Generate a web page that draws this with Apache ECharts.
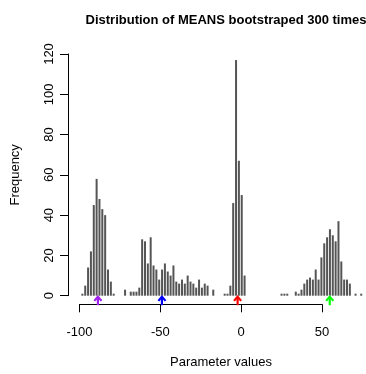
<!DOCTYPE html>
<html>
<head>
<meta charset="utf-8">
<script src="https://cdn.jsdelivr.net/npm/echarts@6/dist/echarts.min.js"></script>
<style>
  html, body { margin: 0; padding: 0; background: #fff; }
  #chart { width: 366px; height: 374px; }
</style>
</head>
<body>
<div id="chart"></div>
<script>
// Bootstrapped means for four parameters: bin centres and frequencies
const groupAValues = [-98.2, -96.44, -94.68, -92.92, -91.16, -89.4, -87.64, -85.88, -84.12, -82.36, -80.6, -78.84];
const groupAFreq   = [1, 5, 14, 22, 45, 58, 48, 43, 40, 13, 7, 1];

const groupBValues = [-71.8, -68.28, -66.52, -64.76, -63.0, -61.24, -59.48, -57.72, -55.96, -54.2,
                      -52.44, -50.68, -48.92, -47.16, -45.4, -43.64, -41.88, -40.12, -38.36, -36.6,
                      -34.84, -33.08, -31.32, -29.56, -27.8, -26.04, -24.28, -22.52, -20.76, -17.24];
const groupBFreq   = [3, 2, 2, 2, 4, 28, 27, 16, 29, 15,
                      13, 8, 13, 16, 12, 10, 15, 7, 6, 8,
                      6, 10, 7, 6, 4, 8, 4, 6, 5, 3];

const groupCValues = [-10.2, -8.44, -6.68, -4.92, -3.16, -1.4, 0.36, 2.12];
const groupCFreq   = [1, 1, 5, 46, 117, 67, 50, 10];

const groupDValues = [25.0, 26.76, 28.52, 33.8, 35.56, 37.32, 39.08, 40.84, 42.6, 44.36,
                      46.12, 47.88, 49.64, 51.4, 53.16, 54.92, 56.68, 58.44, 60.2, 61.96,
                      63.72, 65.48, 67.24, 70.76, 74.28];
const groupDFreq   = [1, 1, 1, 2, 1, 3, 6, 8, 9, 8,
                      13, 8, 19, 26, 29, 33, 30, 27, 37, 17,
                      8, 8, 6, 1, 1];

// True parameter values marked with arrows under the histogram
const arrowValues = [-88.6, -49.0, -2.2, 54.8];
const arrowColors = ['#a020f0', '#0000ff', '#ff0000', '#00ff00'];

// Axis ticks
const xTickStep = 50;   // -100, -50, 0, 50
const yTickStep = 20;   // 0 .. 120

const FONT = '"Liberation Sans", Arial, Helvetica, sans-serif';
const INK = '#000';

const barData = [];
[[groupAValues, groupAFreq], [groupBValues, groupBFreq],
 [groupCValues, groupCFreq], [groupDValues, groupDFreq]].forEach(([xs, fs]) => {
  xs.forEach((x, i) => barData.push([x, fs[i]]));
});

const chart = echarts.init(document.getElementById('chart'), null, { renderer: 'canvas' });

chart.setOption({
  animation: false,
  backgroundColor: '#fff',
  title: {
    text: 'Distribution of MEANS bootstraped 300 times',
    left: 221,
    top: 9,
    textAlign: 'center',
    textStyle: { fontFamily: FONT, fontSize: 13, fontWeight: 'bold', color: INK }
  },
  grid: [
    // plotting region (y from 0 to 120)
    { left: 68, top: 54, right: 0, bottom: 78.3 },
    // strip that carries the x axis line from -100 to 50
    { left: 79.5, width: 242.5, top: 300, height: 4.3 }
  ],
  xAxis: [
    {
      gridIndex: 0, type: 'value', min: -107.1, max: 77.23,
      axisLine: { show: false }, axisTick: { show: false },
      axisLabel: { show: false }, splitLine: { show: false },
      name: 'Parameter values', nameLocation: 'middle', nameGap: 60,
      nameTextStyle: { fontFamily: FONT, fontSize: 13, color: INK, padding: [0, 0, 0, 8] }
    },
    {
      gridIndex: 1, type: 'value', min: -100, max: 50, interval: xTickStep,
      axisLine: { show: true, onZero: false, lineStyle: { color: INK, width: 1 } },
      axisTick: { show: true, length: 8, lineStyle: { color: INK, width: 1 } },
      axisLabel: { margin: 22, fontFamily: FONT, fontSize: 13, color: INK },
      splitLine: { show: false }
    }
  ],
  yAxis: [
    {
      gridIndex: 0, type: 'value', min: 0, max: 120, interval: yTickStep,
      axisLine: { show: true, onZero: false, lineStyle: { color: INK, width: 1 } },
      axisTick: { show: true, length: 8, lineStyle: { color: INK, width: 1 } },
      axisLabel: { rotate: 90, margin: 12, fontFamily: FONT, fontSize: 13, color: INK },
      splitLine: { show: false },
      name: 'Frequency', nameLocation: 'middle', nameGap: 46,
      nameTextStyle: { fontFamily: FONT, fontSize: 13, color: INK }
    },
    { gridIndex: 1, type: 'value', min: 0, max: 1, show: false }
  ],
  series: [
    {
      type: 'bar',
      xAxisIndex: 0, yAxisIndex: 0,
      data: barData,
      barWidth: 2,
      itemStyle: { color: '#555555' },
      silent: true
    },
    {
      type: 'custom',
      xAxisIndex: 0, yAxisIndex: 0,
      data: arrowValues.map((v, i) => [v, 0, i]),
      clip: false,
      z: 5,
      silent: true,
      renderItem: function (params, api) {
        const p = api.coord([api.value(0), 0]);
        const c = arrowColors[api.value(2)];
        const x = p[0], y = p[1];
        return {
          type: 'group',
          children: [
            { type: 'line', shape: { x1: x, y1: y + 9.5, x2: x, y2: y + 1.5 },
              style: { stroke: c, lineWidth: 2.2 } },
            { type: 'polyline', shape: { points: [[x - 3.6, y + 5.2], [x, y + 1], [x + 3.6, y + 5.2]] },
              style: { stroke: c, lineWidth: 2.2, fill: null } }
          ]
        };
      }
    }
  ]
});
</script>
</body>
</html>
